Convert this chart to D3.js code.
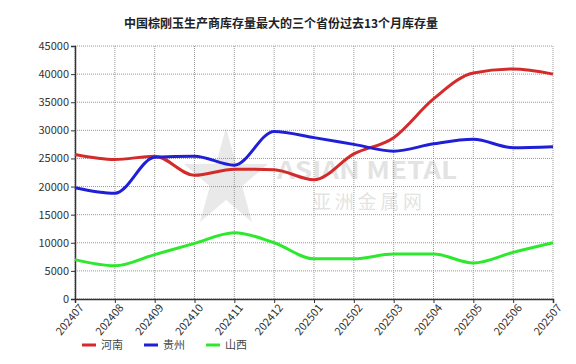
<!DOCTYPE html>
<html>
<head>
<meta charset="UTF-8" />
<title>中国棕刚玉生产商库存量</title>
<script src="https://cdn.jsdelivr.net/npm/d3@7/dist/d3.min.js"></script>
<style>
body { margin: 0; background: #fff; }
svg text { font-family: "Noto Sans CJK SC", "DejaVu Sans", sans-serif; }
</style>
</head>
<body>
<svg id="chart"></svg>
<script>
var months = ["202407","202408","202409","202410","202411","202412","202501",
	"202502","202503","202504","202505","202506","202507"];
var henan   = [25700, 24800, 25400, 22000, 23100, 23000, 21200, 25800, 28700, 35600, 40200, 40900, 40000];
var guizhou = [19800, 18800, 25200, 25400, 23800, 29800, 28700, 27500, 26300, 27600, 28400, 26900, 27100];
var shanxi  = [7000, 5900, 7900, 9900, 11800, 10000, 7150, 7150, 8000, 8000, 6400, 8300, 10000];
var yTicks = [0, 5000, 10000, 15000, 20000, 25000, 30000, 35000, 40000, 45000];

var series = [
	{name: "河南", color: "#d42a2a", values: henan},
	{name: "贵州", color: "#1f1fd8", values: guizhou},
	{name: "山西", color: "#2ee82e", values: shanxi}
];

var w = 576, h = 364;
var m = {left: 75, right: 23, top: 46, bottom: 65};

var svg = d3.select("#chart").attr("width", w).attr("height", h);

var x = d3.scalePoint().domain(months).range([m.left, w - m.right]);
var y = d3.scaleLinear().domain([0, 45000]).range([h - m.bottom, m.top]);

// grid
svg.append("g").selectAll("line.h").data(yTicks).enter().append("line")
	.attr("x1", m.left).attr("x2", w - m.right)
	.attr("y1", function(d){ return y(d); }).attr("y2", function(d){ return y(d); })
	.attr("stroke", "#999").attr("stroke-dasharray", "1,1");
svg.append("g").selectAll("line.v").data(months).enter().append("line")
	.attr("x1", function(d){ return x(d); }).attr("x2", function(d){ return x(d); })
	.attr("y1", m.top).attr("y2", h - m.bottom)
	.attr("stroke", "#999").attr("stroke-dasharray", "1,1");

// watermark
var wm = svg.append("g").attr("opacity", 0.16);
var star = [];
for (var i = 0; i < 10; i++) {
	var r = i % 2 ? 20 : 52, a = -Math.PI / 2 + i * Math.PI / 5;
	star.push([226 + r * Math.cos(a) * 0.85, 180 + r * Math.sin(a)]);
}
wm.append("polygon").attr("points", star.map(function(p){ return p.join(","); }).join(" "))
	.attr("fill", "#777");
wm.append("text").attr("x", 277).attr("y", 179).attr("font-size", 24).attr("font-weight", "bold")
	.attr("fill", "#555").attr("font-family", "DejaVu Sans")
	.attr("textLength", 180).attr("lengthAdjust", "spacingAndGlyphs").text("ASIAN METAL");
wm.append("text").attr("x", 312).attr("y", 209).attr("font-size", 19)
	.attr("fill", "#555").attr("textLength", 110).text("亚洲金属网");

// axes
var yAxis = svg.append("g").attr("transform", "translate(" + m.left + ",0)")
	.call(d3.axisLeft(y).tickValues(yTicks).tickSize(4).tickPadding(2).tickFormat(d3.format("d")));
var xAxis = svg.append("g").attr("transform", "translate(0," + (h - m.bottom) + ")")
	.call(d3.axisBottom(x).tickSize(4).tickPadding(2));
[yAxis, xAxis].forEach(function(g){
	g.select(".domain").attr("stroke", "#333").attr("stroke-width", 1.5);
	g.selectAll(".tick line").attr("stroke", "#333");
	g.selectAll("text").attr("fill", "#333").attr("font-size", 11)
		.attr("font-family", "Liberation Sans, Arial, sans-serif");
});
xAxis.selectAll("text")
	.attr("text-anchor", "end")
	.attr("dx", "-0.1em").attr("dy", "0.6em")
	.attr("transform", "rotate(-50)");

// lines
var line = d3.line()
	.x(function(d, i){ return x(months[i]); })
	.y(function(d){ return y(d); })
	.curve(d3.curveMonotoneX);
svg.append("g").selectAll("path").data(series).enter().append("path")
	.attr("d", function(s){ return line(s.values); })
	.attr("fill", "none")
	.attr("stroke", function(s){ return s.color; })
	.attr("stroke-width", 3);

// title
svg.append("text").attr("x", 281).attr("y", 28).attr("text-anchor", "middle")
	.attr("font-size", 12).attr("font-weight", "bold").attr("fill", "#222")
	.text("中国棕刚玉生产商库存量最大的三个省份过去13个月库存量");

// legend
var lg = svg.append("g").selectAll("g").data(series).enter().append("g")
	.attr("transform", function(d, i){ return "translate(" + (82 + i * 62) + ",345)"; });
lg.append("line").attr("x1", 0).attr("x2", 14).attr("y1", 0).attr("y2", 0)
	.attr("stroke", function(d){ return d.color; }).attr("stroke-width", 3);
lg.append("text").attr("x", 19).attr("y", 4).attr("font-size", 11).attr("fill", "#444")
	.text(function(d){ return d.name; });
</script>
</body>
</html>
